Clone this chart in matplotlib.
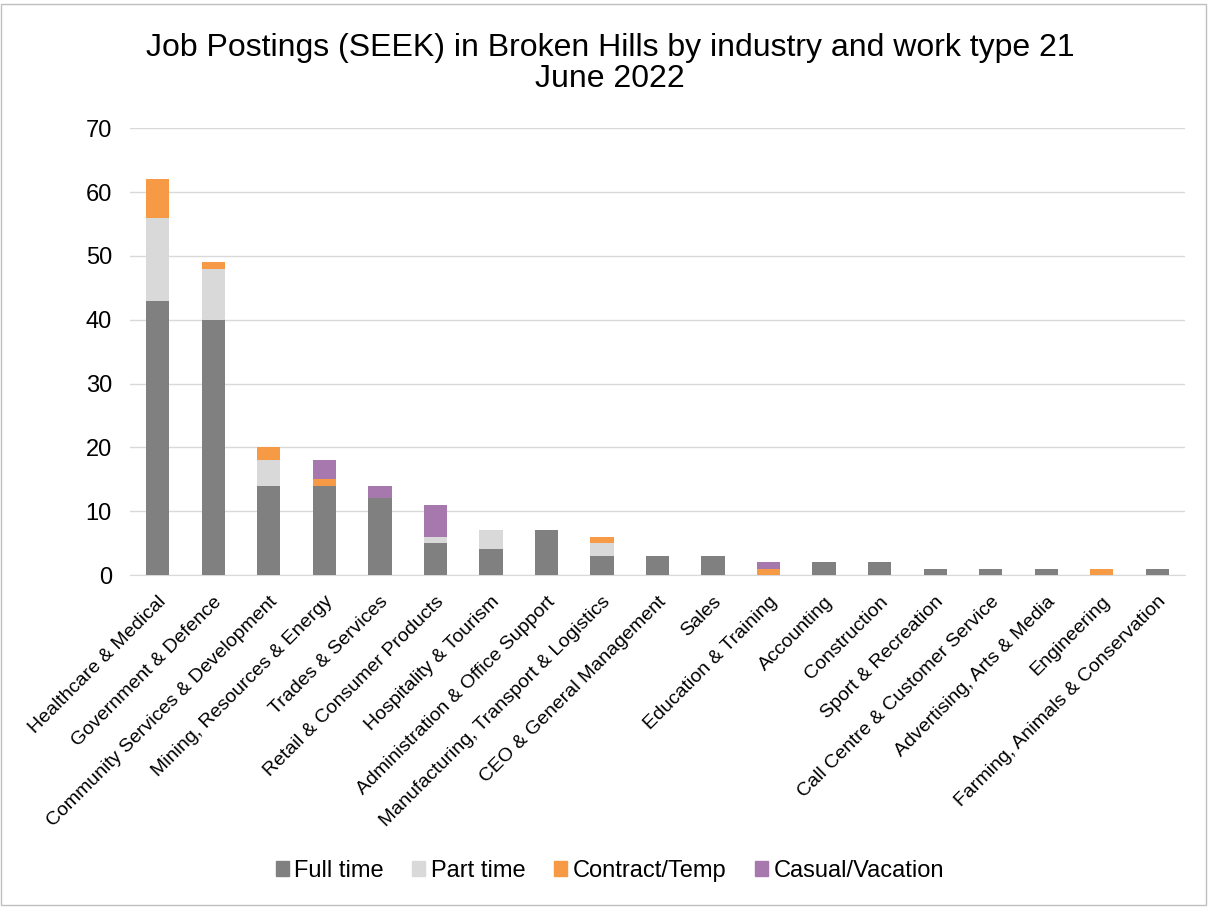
import matplotlib
matplotlib.use("Agg")
import matplotlib.pyplot as plt
import matplotlib.patches as mpatches
import numpy as np

plt.rcParams["font.family"] = ["Liberation Sans", "DejaVu Sans"]

industries = [
    "Healthcare & Medical", "Government & Defence",
    "Community Services & Development", "Mining, Resources & Energy",
    "Trades & Services", "Retail & Consumer Products",
    "Hospitality & Tourism", "Administration & Office Support",
    "Manufacturing, Transport & Logistics", "CEO & General Management",
    "Sales", "Education & Training", "Accounting", "Construction",
    "Sport & Recreation", "Call Centre & Customer Service",
    "Advertising, Arts & Media", "Engineering",
    "Farming, Animals & Conservation",
]
full_time = [43, 40, 14, 14, 12, 5, 4, 7, 3, 3, 3, 0, 2, 2, 1, 1, 1, 0, 1]
part_time = [13, 8, 4, 0, 0, 1, 3, 0, 2, 0, 0, 0, 0, 0, 0, 0, 0, 0, 0]
contract_temp = [6, 1, 2, 1, 0, 0, 0, 0, 1, 0, 0, 1, 0, 0, 0, 0, 0, 1, 0]
casual_vacation = [0, 0, 0, 3, 2, 5, 0, 0, 0, 0, 0, 1, 0, 0, 0, 0, 0, 0, 0]

series = [
    ("Full time", full_time, "#808080"),
    ("Part time", part_time, "#D9D9D9"),
    ("Contract/Temp", contract_temp, "#F79A45"),
    ("Casual/Vacation", casual_vacation, "#A678AE"),
]

fig = plt.figure(figsize=(12.08, 9.09), dpi=100)
ax = fig.add_axes([0.1076, 0.3674, 0.8734, 0.4916])

# stacked bars, one layer per work type
x = np.arange(len(industries))
bottom = np.zeros(len(industries))
handles = []
for name, vals, color in series:
    vals = np.array(vals, dtype=float)
    ax.bar(x, vals, width=0.42, bottom=bottom, color=color, zorder=3)
    bottom += vals
    handles.append(mpatches.Patch(color=color, label=name))

ax.set_xlim(-0.5, len(industries) - 0.5)
ax.set_ylim(0, 70)
ax.set_yticks(range(0, 71, 10))
ax.yaxis.grid(True, color="#D9D9D9", linewidth=1, zorder=0)
ax.tick_params(axis="y", length=0, labelsize=17, pad=13)
ax.tick_params(axis="x", length=0, pad=13)
for side in ("top", "right", "left"):
    ax.spines[side].set_visible(False)
ax.spines["bottom"].set_color("#D9D9D9")

ax.set_xticks(x)
ax.set_xticklabels(industries, rotation=45, ha="right",
                   rotation_mode="anchor", fontsize=14)

fig.suptitle("Job Postings (SEEK) in Broken Hills by industry and work type 21\nJune 2022",
             x=0.505, y=0.964, fontsize=23, linespacing=1.07)

fig.legend(handles=handles, loc="center", bbox_to_anchor=(0.505, 0.042),
           ncol=4, frameon=False, fontsize=17, handlelength=0.55,
           handleheight=0.55, handletextpad=0.25, columnspacing=1.2)

fig.patches.append(mpatches.Rectangle((0.001, 0.004), 0.997, 0.992,
                                      transform=fig.transFigure, fill=False,
                                      edgecolor="#BFBFBF", linewidth=1))

fig.savefig("out.png", dpi=100)
